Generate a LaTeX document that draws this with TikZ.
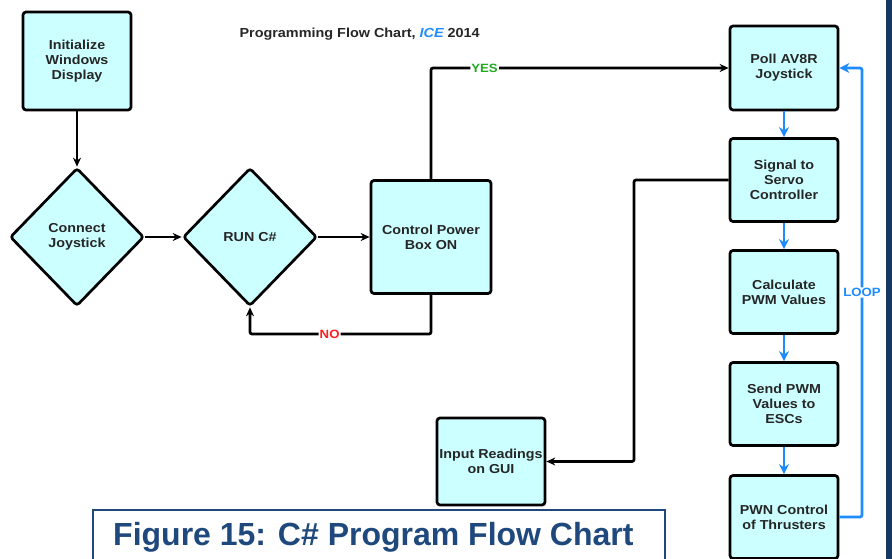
\documentclass[tikz,border=0pt]{standalone}
\usepackage{fontspec}
\setmainfont{Liberation Sans}
\newfontfamily\stretchfont{Liberation Sans}[FakeStretch=1.1]
\usetikzlibrary{shapes.geometric,arrows.meta}
\definecolor{boxfill}{RGB}{204,255,255}
\definecolor{loopblue}{RGB}{30,140,255}
\definecolor{capnavy}{RGB}{31,73,125}
\definecolor{barnavy}{RGB}{23,55,94}
\definecolor{yesgreen}{RGB}{34,170,34}
\definecolor{nored}{RGB}{255,30,30}
\begin{document}
\begin{tikzpicture}[x=1pt,y=-1pt,
  txt/.style={font=\stretchfont\bfseries\fontsize{13}{15}\selectfont, text=black!85},
  box/.style={txt, draw=black, line width=2.7pt, fill=boxfill, rounded corners=3pt,
     minimum width=108pt, minimum height=83pt, align=center, inner sep=0pt},
  dia/.style={txt, diamond, draw=black, line width=2.7pt, fill=boxfill, rounded corners=3pt,
     minimum width=134pt, minimum height=138pt, align=center, inner sep=0pt},
  conn/.style={draw=black, line width=2.7pt, rounded corners=2pt, -{Stealth[length=9pt,width=8pt]}},
  bconn/.style={draw=loopblue, line width=2.7pt, rounded corners=2pt, -{Stealth[length=10pt,width=10pt]}},
  lbl/.style={font=\stretchfont\bfseries\fontsize{12}{13}\selectfont, fill=white, inner sep=1pt}
]
\useasboundingbox (0,0) rectangle (892,559);
\fill[white] (0,0) rectangle (892,559);
\fill[barnavy] (886,0) rectangle (892,559);

\node[txt, anchor=base west, font=\stretchfont\bfseries\fontsize{13.1}{15}\selectfont] (title) at (236,38) {Programming Flow Chart, \textcolor{loopblue}{\itshape ICE} 2014};

\node[box, minimum height=98pt] (init) at (77,61) {Initialize\\Windows\\Display};
\node[dia] (joy) at (77,237) {Connect\\Joystick};
\node[dia] (run) at (250,237) {RUN C\#};
\node[box, minimum width=120pt, minimum height=113pt] (ctrl) at (431,237) {Control Power\\Box ON};
\node[box, minimum height=84pt] (poll) at (784,68) {Poll AV8R\\Joystick};
\node[box] (signal) at (784,180) {Signal to\\Servo\\Controller};
\node[box] (calc) at (784,292) {Calculate\\PWM Values};
\node[box] (send) at (784,404) {Send PWM\\Values to\\ESCs};
\node[box] (pwn) at (784,517) {PWN Control\\of Thrusters};
\node[box, minimum height=87pt] (gui) at (491,461.5) {Input Readings\\on GUI};

\draw[conn] (init.south) -- (joy.north);
\draw[conn] (joy.east) -- (run.west);
\draw[conn] (run.east) -- (ctrl.west);
\draw[conn] (ctrl.north) |- node[lbl, text=yesgreen, pos=0.59] {YES} (poll.west);
\coordinate (nob) at (431,334);
\draw[conn] (ctrl.south) -- (nob) -| node[lbl, text=nored, pos=0.28] {NO} (run.south);

\draw[bconn] (poll.south) -- (signal.north);
\draw[bconn] (signal.south) -- (calc.north);
\draw[bconn] (calc.south) -- (send.north);
\draw[bconn] (send.south) -- (pwn.north);
\coordinate (lb) at (862,517);
\coordinate (lt) at (862,68);
\draw[bconn] (pwn.east) -- (lb) -- node[lbl, text=loopblue, pos=0.5] {LOOP} (lt) -- (poll.east);

\coordinate (s1) at (634,180);
\coordinate (s2) at (634,461.5);
\draw[conn] (signal.west) -- (s1) -- (s2) -- (gui.east);

\fill[white] (93,510) rectangle (665,570);
\draw[capnavy, line width=2pt] (93,570) -- (93,510) -- (665,510) -- (665,570);
\node[anchor=base west, text=capnavy, font=\bfseries\fontsize{32}{36}\selectfont, inner sep=0pt] (cap) at (113,545) {Figure 15: C\# Program Flow Chart};
\end{tikzpicture}
\end{document}
